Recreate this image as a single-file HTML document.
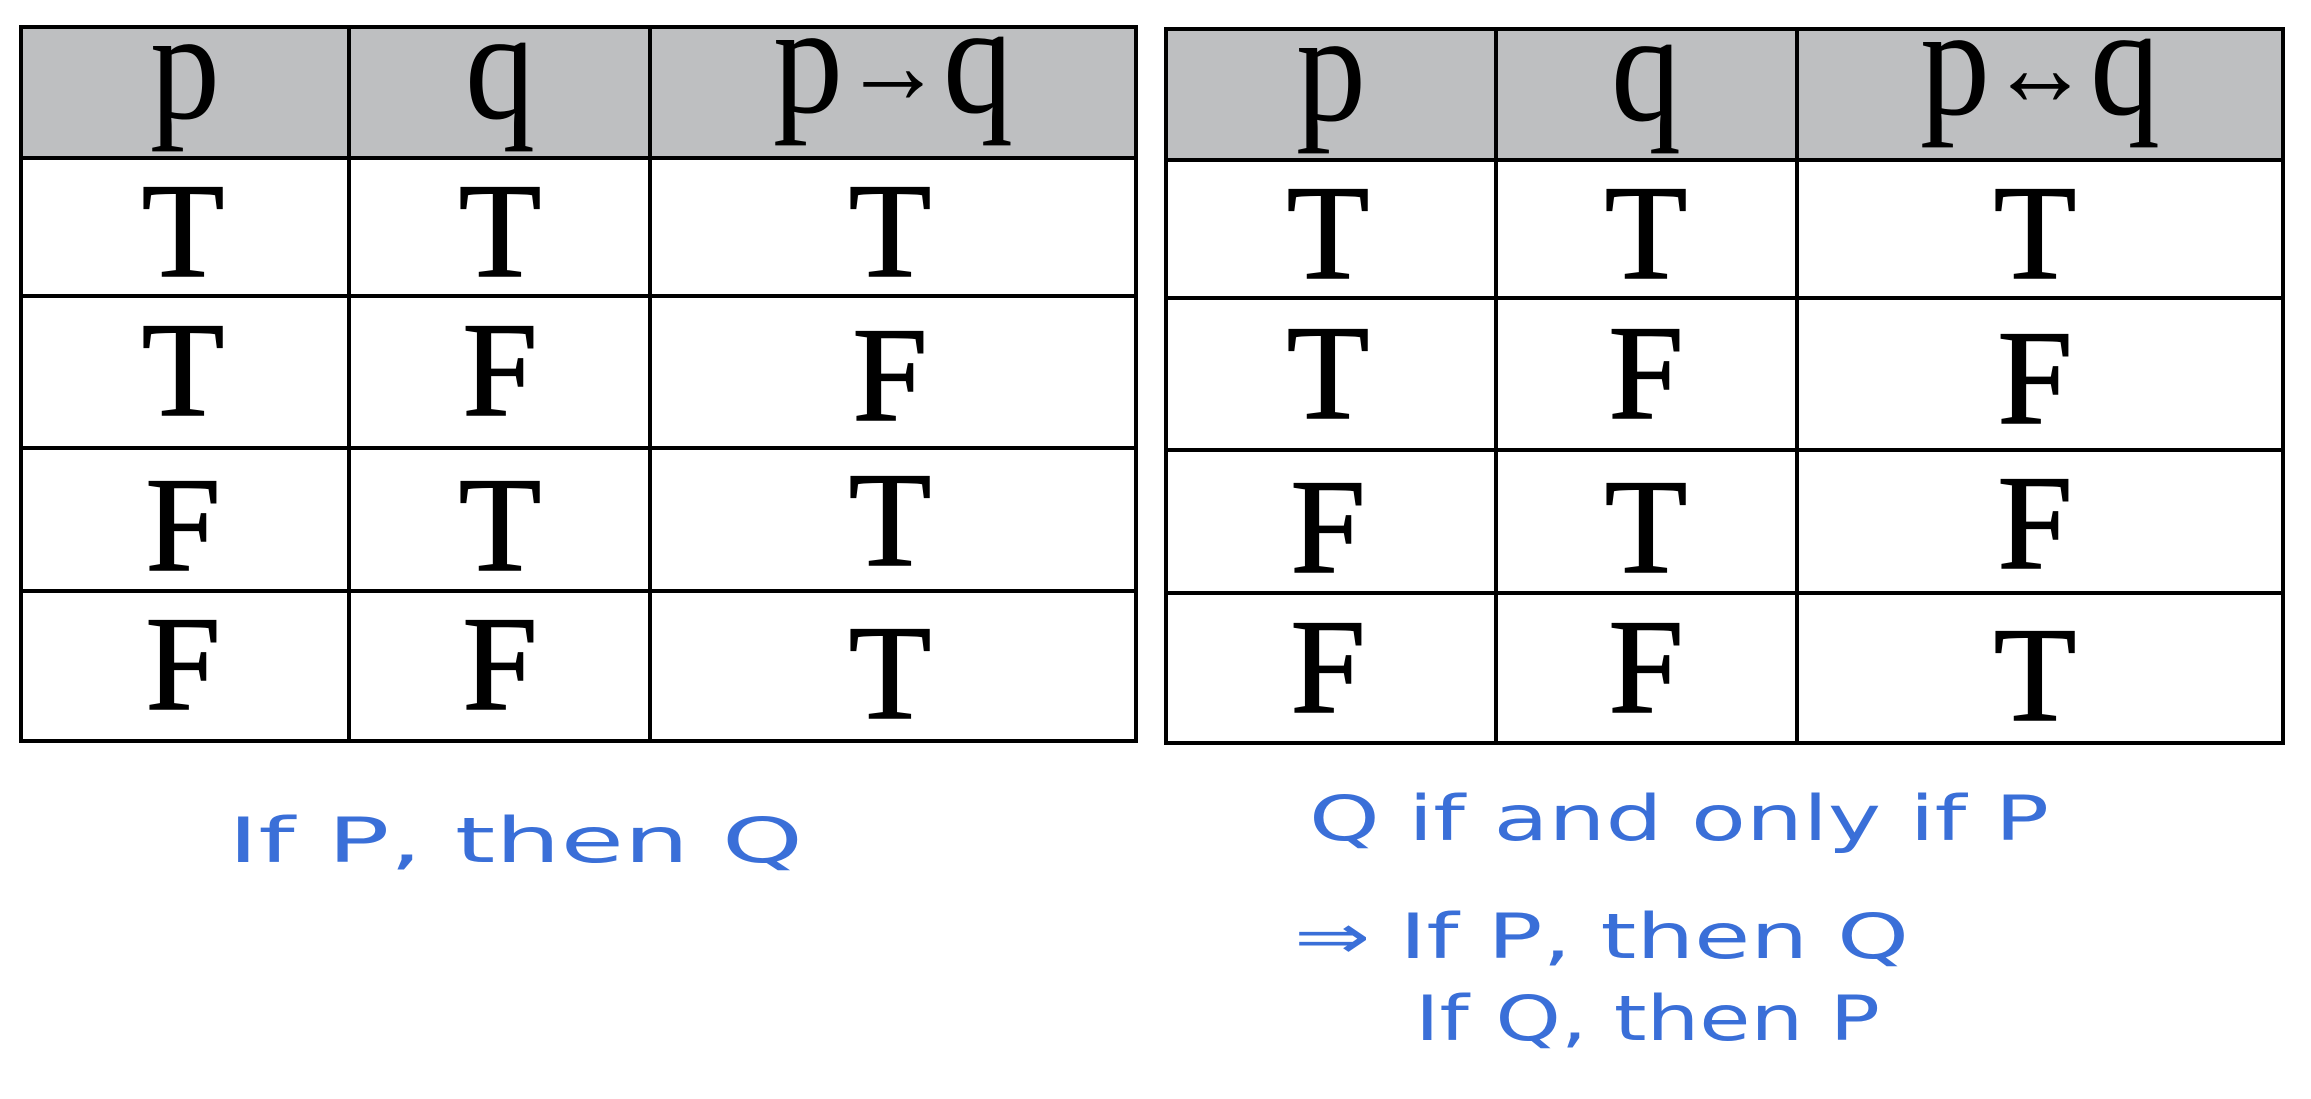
<!DOCTYPE html>
<html><head><meta charset="utf-8"><style>
html,body{margin:0;padding:0;background:#fff;}
svg{display:block}
.c{font-family:"Liberation Serif",serif;font-size:135px;fill:#000;text-anchor:middle;stroke:#000;stroke-width:1.5}
.h{font-family:"Liberation Serif",serif;font-size:140px;fill:#000;text-anchor:middle}
.w{font-family:"DejaVu Sans",sans-serif;font-size:62px;fill:#3a6fd8}
</style></head><body>
<svg width="2311" height="1099" viewBox="0 0 2311 1099" xmlns="http://www.w3.org/2000/svg">
<rect width="2311" height="1099" fill="#fff"/>
<rect x="21" y="27" width="1115" height="131" fill="#bebfc1"/>
<g stroke="#000" stroke-width="4" fill="none">
<rect x="21" y="27" width="1115" height="714"/>
<line x1="21" y1="158" x2="1136" y2="158"/>
<line x1="21" y1="296" x2="1136" y2="296"/>
<line x1="21" y1="448" x2="1136" y2="448"/>
<line x1="21" y1="591" x2="1136" y2="591"/>
<line x1="349" y1="27" x2="349" y2="741"/>
<line x1="650" y1="27" x2="650" y2="741"/>
</g>
<rect x="1166" y="29" width="1117" height="131" fill="#bebfc1"/>
<g stroke="#000" stroke-width="4" fill="none">
<rect x="1166" y="29" width="1117" height="714"/>
<line x1="1166" y1="160" x2="2283" y2="160"/>
<line x1="1166" y1="298" x2="2283" y2="298"/>
<line x1="1166" y1="450" x2="2283" y2="450"/>
<line x1="1166" y1="593" x2="2283" y2="593"/>
<line x1="1496" y1="29" x2="1496" y2="743"/>
<line x1="1797" y1="29" x2="1797" y2="743"/>
</g>
<g transform="translate(0,0)">
<text class="h" x="185" y="118" transform="translate(185,118) scale(1,1.12) translate(-185,-118)">p</text>
<text class="h" x="500" y="118" transform="translate(500,118) scale(1,1.12) translate(-500,-118)">q</text>
<text class="h" x="893" y="112" transform="translate(893,112) scale(1,1.12) translate(-893,-112)">p<tspan font-size="100" dy="-8">→</tspan><tspan dy="8">q</tspan></text>
<text class="h" x="1331" y="120" transform="translate(1331,120) scale(1,1.12) translate(-1331,-120)">p</text>
<text class="h" x="1646" y="120" transform="translate(1646,120) scale(1,1.12) translate(-1646,-120)">q</text>
<text class="h" x="2040" y="114" transform="translate(2040,114) scale(1,1.12) translate(-2040,-114)">p<tspan font-size="100" dy="-8">↔</tspan><tspan dy="8">q</tspan></text>
</g>
<g class="c">
<text x="183" y="276">T</text><text x="500" y="276">T</text><text x="890" y="276">T</text>
<text x="183" y="415">T</text><text x="500" y="415">F</text><text x="890" y="420">F</text>
<text x="183" y="570">F</text><text x="500" y="570">T</text><text x="890" y="565">T</text>
<text x="183" y="709">F</text><text x="500" y="709">F</text><text x="890" y="718">T</text>
<text x="1328" y="278">T</text><text x="1646" y="278">T</text><text x="2035" y="278">T</text>
<text x="1328" y="418">T</text><text x="1646" y="418">F</text><text x="2035" y="423">F</text>
<text x="1328" y="572">F</text><text x="1646" y="572">T</text><text x="2035" y="568">F</text>
<text x="1328" y="712">F</text><text x="1646" y="712">F</text><text x="2035" y="720">T</text>
</g>
<text class="w" x="228" y="862" textLength="575" lengthAdjust="spacingAndGlyphs">If  P, then Q</text>
<text class="w" x="1309" y="840" textLength="740" lengthAdjust="spacingAndGlyphs">Q if and only if  P</text>
<text class="w" x="1294" y="958" textLength="615" lengthAdjust="spacingAndGlyphs">⇒ If  P, then Q</text>
<text class="w" x="1415" y="1040" textLength="465" lengthAdjust="spacingAndGlyphs">If Q, then P</text>
</svg>
</body></html>
